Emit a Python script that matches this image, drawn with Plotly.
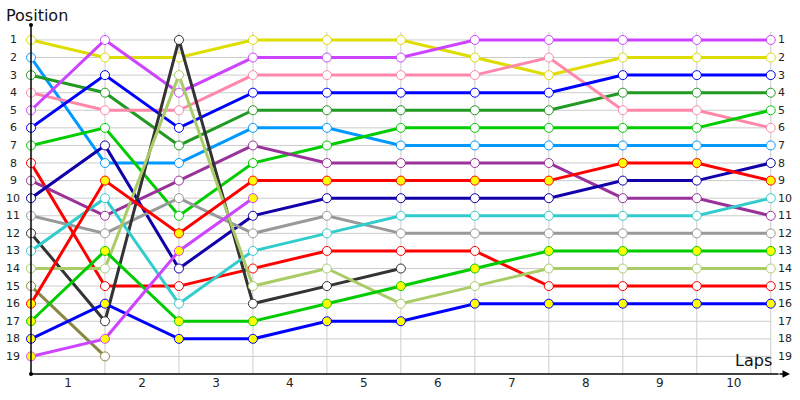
import plotly.graph_objects as go

laps = list(range(0, 11))
lap_labels = [str(i) for i in range(1, 11)]
positions = list(range(1, 20))

names = ["Yellow", "LightBlue", "DarkGreen", "Pink", "Magenta", "Blue", "Green", "Red",
         "Purple", "DarkBlue", "Gray", "DarkGray", "Cyan", "LightGreen", "Olive",
         "Red2", "Green2", "Blue2", "Magenta2"]

yellow     = [1, 2, 2, 1, 1, 1, 2, 3, 2, 2, 2]
lightblue  = [2, 8, 8, 6, 6, 7, 7, 7, 7, 7, 7]
darkgreen  = [3, 4, 7, 5, 5, 5, 5, 5, 4, 4, 4]
pink       = [4, 5, 5, 3, 3, 3, 3, 2, 5, 5, 6]
magenta    = [5, 1, 4, 2, 2, 2, 1, 1, 1, 1, 1]
blue       = [6, 3, 6, 4, 4, 4, 4, 4, 3, 3, 3]
green      = [7, 6, 11, 8, 7, 6, 6, 6, 6, 6, 5]
red        = [8, 15, 15, 14, 13, 13, 13, 15, 15, 15, 15]
purple     = [9, 11, 9, 7, 8, 8, 8, 8, 10, 10, 11]
darkblue   = [10, 7, 14, 11, 10, 10, 10, 10, 9, 9, 8]
gray       = [11, 12, 10, 12, 11, 12, 12, 12, 12, 12, 12]
darkgray   = [12, 17, 1, 16, 15, 14, None, None, None, None, None]
cyan       = [13, 10, 16, 13, 12, 11, 11, 11, 11, 11, 10]
lightgreen = [14, 14, 3, 15, 14, 16, 15, 14, 14, 14, 14]
olive      = [15, 19, None, None, None, None, None, None, None, None, None]
red2       = [16, 9, 12, 9, 9, 9, 9, 9, 8, 8, 9]
green2     = [17, 13, 17, 17, 16, 15, 14, 13, 13, 13, 13]
blue2      = [18, 16, 18, 18, 17, 17, 16, 16, 16, 16, 16]
magenta2   = [19, 18, 13, 10, None, None, None, None, None, None, None]

series = [yellow, lightblue, darkgreen, pink, magenta, blue, green, red, purple, darkblue,
          gray, darkgray, cyan, lightgreen, olive, red2, green2, blue2, magenta2]
colors = ["#dddd00", "#0099ff", "#229922", "#ff88aa", "#cc44ff", "#0000ff", "#00cc00", "#ff0000",
          "#993399", "#1100aa", "#999999", "#333333", "#33cccc", "#aacc66", "#888844",
          "#ff0000", "#00cc00", "#0000ff", "#cc44ff"]
fills = ["white"] * 15 + ["#ffff00"] * 4

fig = go.Figure()

XMAX = 10.26
YTOP = 0.15
YBOT = 20

# grid lines
shapes = []
for p in positions:
    shapes.append(dict(type="line", xref="x", yref="y", x0=0, x1=10, y0=p, y1=p,
                       line=dict(color="#cccccc", width=1), layer="below"))
for l in laps[1:]:
    shapes.append(dict(type="line", xref="x", yref="y", x0=l, x1=l, y0=0.55, y1=YBOT,
                       line=dict(color="#cccccc", width=1), layer="below"))
# axes
shapes.append(dict(type="line", xref="paper", yref="paper", x0=0, x1=0, y0=0, y1=1,
                   line=dict(color="black", width=1.5)))
shapes.append(dict(type="line", xref="paper", yref="paper", x0=0, x1=0.985, y0=0, y1=0,
                   line=dict(color="black", width=1.5)))
shapes.append(dict(type="circle", xref="paper", yref="paper", xsizemode="pixel", ysizemode="pixel",
                   xanchor=0, yanchor=1, x0=-2, x1=2, y0=-2, y1=2,
                   fillcolor="black", line=dict(color="black", width=0)))
shapes.append(dict(type="circle", xref="paper", yref="paper", xsizemode="pixel", ysizemode="pixel",
                   xanchor=0, yanchor=0, x0=-2, x1=2, y0=-2, y1=2,
                   fillcolor="black", line=dict(color="black", width=0)))

for name, ys, c, f in zip(names, series, colors, fills):
    fig.add_trace(go.Scatter(
        x=laps, y=ys, mode="lines+markers", name=name,
        line=dict(color=c, width=3),
        marker=dict(size=9, color=f, line=dict(color=c, width=1)),
        cliponaxis=False, showlegend=False))

annotations = []
for p in positions:
    annotations.append(dict(x=0, xref="paper", y=p, yref="y", text=str(p), showarrow=False,
                            xanchor="center", xshift=-18, font=dict(size=11, color="#222222",
                            family="DejaVu Sans")))
    annotations.append(dict(x=10, xref="x", y=p, yref="y", text=str(p), showarrow=False,
                            xanchor="left", xshift=5, font=dict(size=11, color="#222222",
                            family="DejaVu Sans")))
annotations.append(dict(x=0, xref="paper", y=1, yref="paper", text="Position", showarrow=False,
                        xanchor="left", yanchor="bottom", xshift=-27, yshift=-2,
                        font=dict(size=16, color="#111111", family="DejaVu Sans")))
annotations.append(dict(x=10, xref="x", y=0, yref="paper", text="Laps", showarrow=False,
                        xanchor="right", yanchor="bottom", xshift=3, yshift=2,
                        font=dict(size=16, color="#111111", family="DejaVu Sans")))
annotations.append(dict(x=1, xref="paper", y=0, yref="paper", ax=-12, ay=0, axref="pixel",
                        text="", showarrow=True, arrowhead=2, arrowsize=1, arrowwidth=1.5,
                        arrowcolor="black"))

fig.update_layout(
    width=800, height=400,
    margin=dict(l=31, r=10, t=25, b=24),
    paper_bgcolor="white", plot_bgcolor="white",
    xaxis=dict(range=[0, XMAX], tickvals=[l + 0.5 for l in laps[:-1]], ticktext=lap_labels,
               showgrid=False, zeroline=False, showline=False, ticks="",
               tickfont=dict(size=12, color="#222222", family="DejaVu Sans")),
    yaxis=dict(range=[YBOT, YTOP], showgrid=False, zeroline=False, showline=False,
               showticklabels=False, ticks=""),
    shapes=shapes, annotations=annotations,
)

fig.write_html("out.html")
